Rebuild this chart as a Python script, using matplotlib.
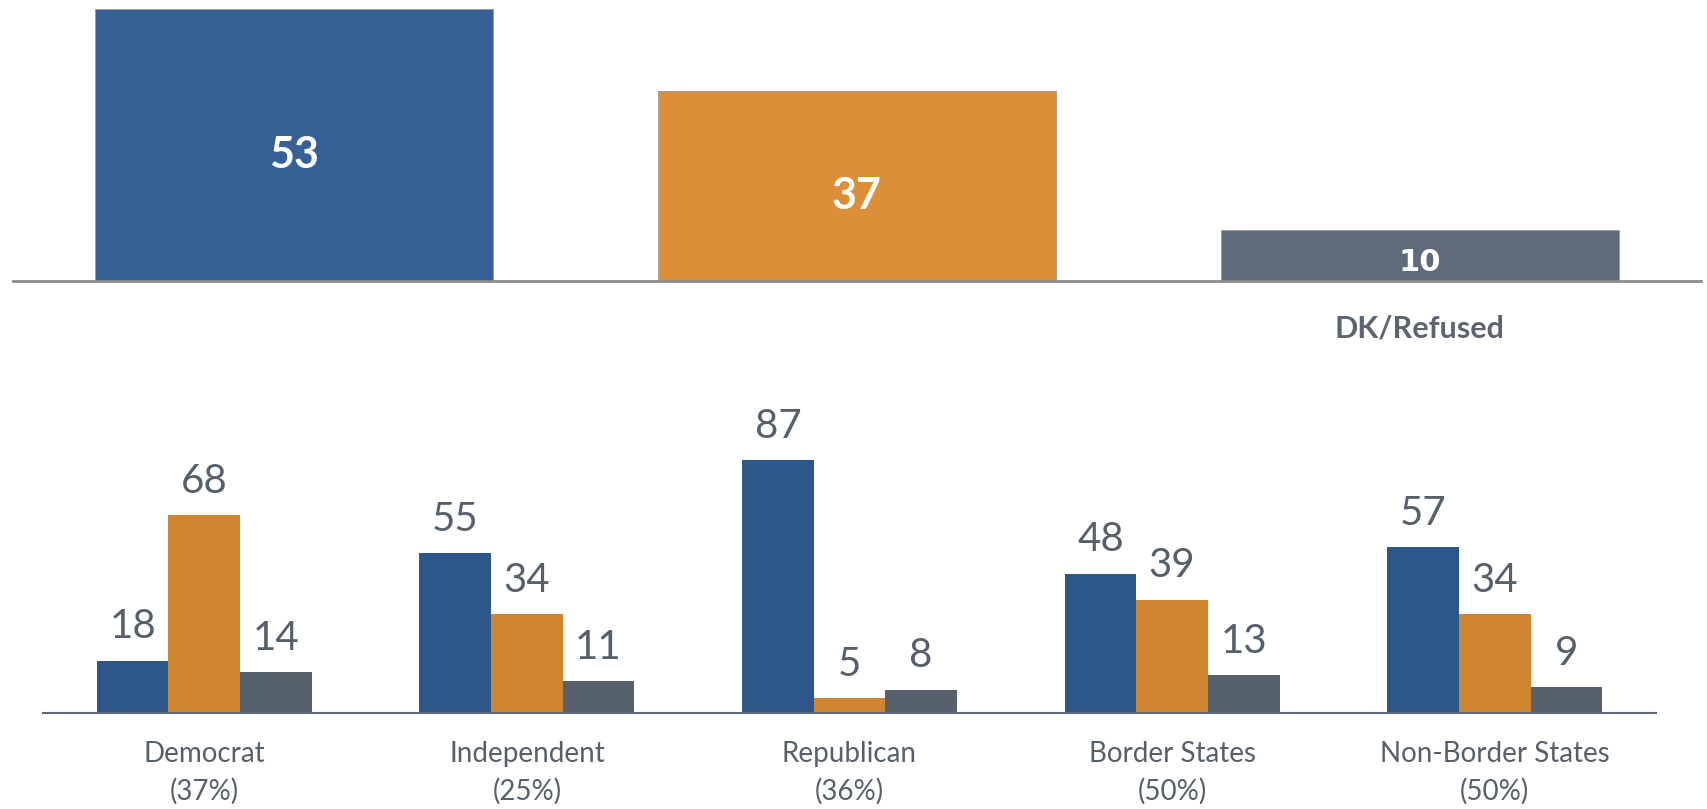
import numpy as np
import matplotlib.pyplot as plt

# top chart
top_labels = ["", "", "DK/Refused"]
top_values = [53, 37, 10]
top_colors = ["#366096", "#DC8F38", "#5F6B7A"]

# bottom chart
groups = ["Democrat\n(37%)", "Independent\n(25%)", "Republican\n(36%)",
          "Border States\n(50%)", "Non-Border States\n(50%)"]
blue_vals = [18, 55, 87, 48, 57]
orange_vals = [68, 34, 5, 39, 34]
gray_vals = [14, 11, 8, 13, 9]
bottom_colors = ["#2E5789", "#D08531", "#56616D"]

text_gray = "#56606B"

W, H = 1708, 809
fig = plt.figure(figsize=(W / 100, H / 100), dpi=100)
fig.patch.set_facecolor("white")

# --- top bars ---
ax1 = fig.add_axes([13 / W, (H - 281) / H, 1688 / W, 54 * 5.13 / H])
x1 = np.arange(len(top_values))
ax1.bar(x1, top_values, width=0.707, color=top_colors, edgecolor="#9a9a9a", linewidth=0.6)
ax1.set_xlim(-0.5, 2.5)
ax1.set_ylim(0, 54)
for s in ["top", "right", "left"]:
    ax1.spines[s].set_visible(False)
ax1.spines["bottom"].set_color("#8c8c8c")
ax1.spines["bottom"].set_linewidth(2)
ax1.set_yticks([])
ax1.set_xticks(x1)
ax1.set_xticklabels(top_labels, fontsize=22, fontweight="bold", color="#5B6572", family="Lato")
ax1.tick_params(axis="x", length=0, pad=24)
ax1.patch.set_alpha(0)
for i, v in enumerate(top_values):
    if i < 2:
        ax1.annotate(str(v), (i, v / 2), xytext=(0, -7), textcoords="offset points",
                     ha="center", va="center", fontsize=31, fontweight="bold",
                     color="white", family="Lato")
    else:
        ax1.annotate(str(v), (i, v / 2), xytext=(0, -5), textcoords="offset points",
                     ha="center", va="center", fontsize=22, fontweight="bold",
                     color="white", family="DejaVu Sans")

# --- bottom grouped bars ---
ax2 = fig.add_axes([43 / W, (H - 713) / H, 1613 / W, 100 * 2.905 / H])
x2 = np.arange(len(groups))
w = 0.222
for k, (vals, c) in enumerate(zip([blue_vals, orange_vals, gray_vals], bottom_colors)):
    pos = x2 + (k - 1) * w
    ax2.bar(pos, vals, width=w, color=c, edgecolor="none")
    for p, v in zip(pos, vals):
        ax2.annotate(str(v), (p, v), xytext=(0, 11), textcoords="offset points",
                     ha="center", va="bottom", fontsize=29, color=text_gray, family="Lato")
ax2.set_xlim(-0.5, 4.5)
ax2.set_ylim(0, 100)
for s in ["top", "right", "left"]:
    ax2.spines[s].set_visible(False)
ax2.spines["bottom"].set_color("#5D6877")
ax2.spines["bottom"].set_linewidth(1.5)
ax2.set_yticks([])
ax2.set_xticks(x2)
ax2.set_xticklabels(groups, fontsize=20, color=text_gray, family="Lato", linespacing=1.5)
ax2.tick_params(axis="x", length=0, pad=20)
ax2.patch.set_alpha(0)

fig.savefig("out.png", dpi=100, facecolor="white")
